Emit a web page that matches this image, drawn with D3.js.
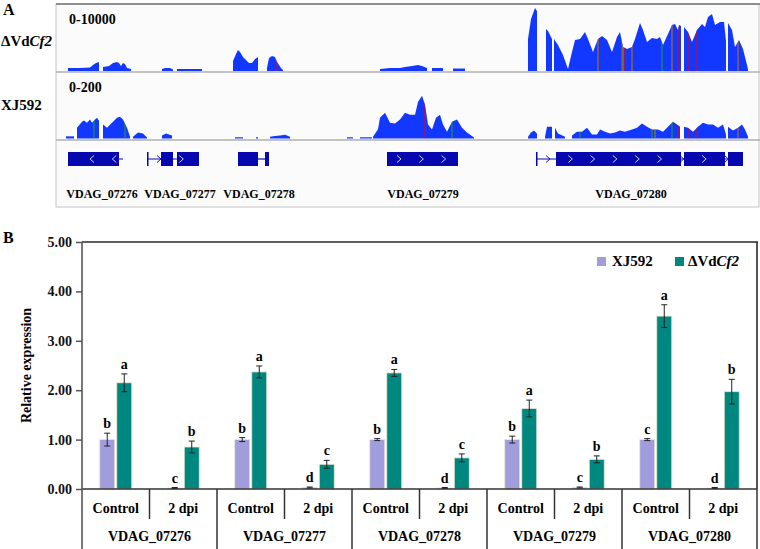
<!DOCTYPE html>
<html>
<head>
<meta charset="utf-8">
<script src="https://cdn.jsdelivr.net/npm/d3@7"></script>
<style>
  body { margin: 0; background: #fff; }
</style>
</head>
<body>
<svg width="760" height="549"></svg>
<script>
// ---- panel A data : coverage ([bin, reads]) per contiguous segment ----
const cf2Coverage = [
  [[11,460],[23,460],[33,540],[36,920],[39,1230],[42,1380]],
  [[46,620],[52,770],[56,1230],[60,1380],[62,1230],[64,770],[66,1230],[68,1080],[70,460],[74,310]],
  [[105,310],[108,460],[113,460],[116,230]],
  [[120,310],[145,310]],
  [[176,1540],[179,2620],[181,3230],[183,2930],[186,2160],[189,1690],[192,1230],[195,1230],[198,1850],[201,2160]],
  [[210,460],[212,2000],[215,2310],[218,2160],[220,1390],[222,920],[224,460],[226,150]],
  [[323,310],[333,460],[343,460],[348,620],[355,770],[361,920],[365,770],[370,460]],
  [[375,460],[386,460]],
  [[396,380],[408,380]],
  [[471,4930],[474,8010],[478,9700],[480,9240]],
  [[489,6470],[491,6160],[495,4930]],
  [[497,4930],[501,4000],[506,2460],[511,310],[515,2930],[518,4770],[523,4930],[528,6010],[531,4930],[536,2930],
   [541,4930],[545,5390],[550,4770],[555,2930],[560,5240],[563,6010],[566,3700],[570,3390],[575,3700],[578,4930],
   [583,7390],[586,6310],[590,4470],[595,5080],[600,4930],[603,5240],[606,4000],[611,5700],[615,7080],[618,7240],
   [621,6310],[622,7080],[624,6930]],
  [[627,6780],[631,6010],[635,4470],[640,6310],[645,7240],[648,6780],[651,8320],[655,8780],[658,7080],[663,7550],
   [667,7550],[669,4620]],
  [[671,7390],[675,6310],[678,3700],[682,4770],[686,3390],[690,920],[691,150]]
];
const xj592Coverage = [
  [[9,7],[17,7]],
  [[20,35],[25,54],[27,58],[30,51],[33,61],[35,51],[38,61],[40,67],[41,61],[42,58]],
  [[46,45],[50,35],[55,51],[60,67],[63,70],[66,61],[70,35],[73,6]],
  [[76,6],[81,19],[86,16],[90,3]],
  [[105,10],[109,16],[115,10]],
  [[178,4],[186,4]],
  [[199,4],[201,4]],
  [[213,6],[218,8],[223,10],[228,12],[233,6]],
  [[290,4],[296,4]],
  [[303,4],[315,4]],
  [[316,6],[321,30],[323,67],[328,83],[333,51],[338,48],[343,61],[348,83],[353,77],[358,77],[361,118],[365,138],
   [368,109],[371,45],[375,29],[379,67],[383,77],[386,45],[390,22],[395,54],[400,61],[405,35],[410,19],[416,6],[417,3]],
  [[471,6],[474,19],[477,26],[480,16]],
  [[488,6],[490,38],[495,38]],
  [[498,35],[501,16],[508,6]],
  [[515,10],[520,22],[525,22],[530,35],[535,13],[540,13],[543,29],[548,22],[553,16],[558,19],[563,26],[568,22],
   [575,29],[580,35],[585,48],[590,38],[595,29],[601,29],[606,22],[611,38],[616,54],[620,45],[623,38]],
  [[627,38],[631,35],[636,22],[641,38],[646,51],[651,45],[656,45],[661,35],[666,45],[669,13]],
  [[671,38],[676,26],[681,35],[685,45],[688,29],[691,6]]
];
// mismatch positions [bin, base]
const cf2Mismatch = [[220,"T"],[541,"G"],[565,"A"],[566,"G"],[568,"T"],[575,"G"],[605,"A"],[615,"G"],[622,"T"],
  [632,"T"],[640,"T"],[681,"G"],[691,"T"]];
const xj592Mismatch = [[37,"A"],[68,"A"],[368,"T"],[395,"A"],[523,"A"],[595,"A"],[598,"G"],[615,"A"],[622,"T"],
  [632,"T"],[640,"T"],[681,"G"]];
const baseColor = { A: "#1fa51f", C: "#0000ff", G: "#d17105", T: "#e0001c" };

const geneModels = [
  { name: "VDAG_07276", strand: -1, span: [11, 66], exons: [[11, 62]], labelAt: 45 },
  { name: "VDAG_07277", strand: 1, span: [90, 142], exons: [[90, 91.5], [104, 116], [120, 142]], labelAt: 123 },
  { name: "VDAG_07278", strand: 0, span: [181, 212], exons: [[181, 201], [208, 212]], labelAt: 202 },
  { name: "VDAG_07279", strand: 1, span: [330, 401], exons: [[330, 401]], labelAt: 366 },
  { name: "VDAG_07280", strand: 1, span: [479, 686], exons: [[479, 480.5], [499, 624], [627, 668], [671, 686]], labelAt: 574 }
];

// ---- panel B data ----
const genes = ["VDAG_07276", "VDAG_07277", "VDAG_07278", "VDAG_07279", "VDAG_07280"];
const conditions = ["Control", "2 dpi"];
const strains = ["XJ592", "ΔVdCf2"];
const xj592Mean = [1.00, 0.02, 1.00, 0.03, 1.00, 0.02, 1.00, 0.03, 1.00, 0.02];
const xj592Err  = [0.13, 0.01, 0.04, 0.01, 0.02, 0.01, 0.07, 0.01, 0.02, 0.01];
const xj592Sig  = ["b", "c", "b", "d", "b", "d", "b", "c", "c", "d"];
const cf2Mean = [2.15, 0.85, 2.37, 0.50, 2.35, 0.63, 1.63, 0.60, 3.50, 1.97];
const cf2Err  = [0.18, 0.12, 0.12, 0.08, 0.07, 0.08, 0.17, 0.07, 0.23, 0.25];
const cf2Sig  = ["a", "b", "a", "c", "a", "c", "a", "b", "a", "b"];
const yTicks = [0, 1, 2, 3, 4, 5];

const svg = d3.select("svg")
  .attr("font-family", "Liberation Serif")
  .attr("font-weight", "bold");
const covBlue = "#1238ff", geneBlue = "#0707b0";

// ================= panel A =================
svg.append("text").attr("x", 3).attr("y", 15).attr("font-size", 16).text("A");

const gx = d3.scaleLinear().domain([0, 703]).range([57, 760]);

const frame = svg.append("g");
frame.append("rect").attr("x", 56).attr("y", 4).attr("width", 703).attr("height", 203)
  .attr("fill", "#fbfbfb").attr("stroke", "#c4c4c4");
frame.append("line").attr("x1", 56).attr("x2", 760).attr("y1", 4).attr("y2", 4)
  .attr("stroke", "#8e8e8e").attr("stroke-width", 2);
[72, 140].forEach(yy => frame.append("line").attr("x1", 56).attr("x2", 760).attr("y1", yy).attr("y2", yy)
  .attr("stroke", "#b0b0b0").attr("stroke-width", 1.6));

function drawTrack(segs, mism, yScale, id) {
  const area = d3.area().x(d => gx(d[0])).y0(yScale(0)).y1(d => yScale(d[1]));
  const g = svg.append("g");
  const clip = svg.append("clipPath").attr("id", id);
  segs.forEach(s => {
    g.append("path").attr("d", area(s)).attr("fill", covBlue);
    clip.append("path").attr("d", area(s));
  });
  g.append("g").attr("clip-path", "url(#" + id + ")").selectAll("line").data(mism).enter()
    .append("line")
    .attr("x1", d => gx(d[0])).attr("x2", d => gx(d[0]))
    .attr("y1", yScale(0)).attr("y2", yScale.range()[1])
    .attr("stroke", d => baseColor[d[1]]).attr("stroke-width", 1);
}
drawTrack(cf2Coverage, cf2Mismatch, d3.scaleLinear().domain([0, 10000]).range([71, 6]), "clipCf2");
drawTrack(xj592Coverage, xj592Mismatch, d3.scaleLinear().domain([0, 200]).range([138.5, 76.5]), "clipXj");

svg.append("text").attr("x", 69).attr("y", 24).attr("font-size", 14).text("0-10000");
svg.append("text").attr("x", 69).attr("y", 92).attr("font-size", 14).text("0-200");
const lab1 = svg.append("text").attr("x", 1).attr("y", 46).attr("font-size", 15);
lab1.append("tspan").text("ΔVd");
lab1.append("tspan").attr("font-style", "italic").text("Cf2");
svg.append("text").attr("x", 1).attr("y", 110).attr("font-size", 15).text("XJ592");

// gene models
const gm = svg.append("g");
const exonTop = 152, exonH = 14, midY = 159;
geneModels.forEach(gene => {
  gm.append("line").attr("x1", gx(gene.span[0])).attr("x2", gx(gene.span[1]))
    .attr("y1", midY).attr("y2", midY).attr("stroke", geneBlue).attr("stroke-width", 1.2);
  gene.exons.forEach(e => gm.append("rect")
    .attr("x", gx(e[0])).attr("y", exonTop)
    .attr("width", Math.max(gx(e[1]) - gx(e[0]), 1.5)).attr("height", exonH)
    .attr("fill", geneBlue));
  if (gene.strand !== 0) {
    for (let p = gene.span[0] + (gene.strand > 0 ? 12 : 24); p < gene.span[1] - 2; p += 22.3) {
      const onExon = gene.exons.some(e => p > e[0] + 1 && p < e[1] - 1);
      const d = gene.strand > 0 ? -2 : 2;
      gm.append("path")
        .attr("d", `M${gx(p) + d},${midY - 3.5}L${gx(p) - d},${midY}L${gx(p) + d},${midY + 3.5}`)
        .attr("fill", "none").attr("stroke", onExon ? "#e8e8ff" : geneBlue).attr("stroke-width", 0.9);
    }
  }
  gm.append("text").attr("x", gx(gene.labelAt)).attr("y", 198).attr("text-anchor", "middle")
    .attr("font-size", 12).text(gene.name);
});

// ================= panel B =================
svg.append("text").attr("x", 3).attr("y", 243).attr("font-size", 16).text("B");

const pLeft = 82, pRight = 757, pTop = 242, pBottom = 489;
const y = d3.scaleLinear().domain([0, 5]).range([pBottom, pTop]);
const xGene = d3.scaleBand().domain(genes).range([pLeft, pRight]);
const xCond = d3.scaleBand().domain(conditions).range([0, xGene.bandwidth()]);
const xStrain = d3.scaleBand().domain(strains)
  .range([xCond.bandwidth() / 2 - 16, xCond.bandwidth() / 2 + 16]).paddingInner(0.12);

const rows = [];
genes.forEach((g, gi) => conditions.forEach((c, ci) => {
  const k = gi * 2 + ci;
  rows.push({ gene: g, cond: c, strain: strains[0], v: xj592Mean[k], e: xj592Err[k], s: xj592Sig[k] });
  rows.push({ gene: g, cond: c, strain: strains[1], v: cf2Mean[k], e: cf2Err[k], s: cf2Sig[k] });
}));
const color = d3.scaleOrdinal().domain(strains).range(["#a19ddd", "#00877f"]);
const bx = d => xGene(d.gene) + xCond(d.cond) + xStrain(d.strain);

// frame lines
svg.append("line").attr("x1", pLeft).attr("x2", pRight + 1).attr("y1", pTop).attr("y2", pTop)
  .attr("stroke", "#2a2a2a").attr("stroke-width", 1.6);
svg.append("line").attr("x1", pRight).attr("x2", pRight).attr("y1", pTop).attr("y2", pBottom)
  .attr("stroke", "#2a2a2a").attr("stroke-width", 1.6);

const yAxis = svg.append("g").attr("transform", `translate(${pLeft},0)`)
  .call(d3.axisLeft(y).tickValues(yTicks).tickFormat(d3.format(".2f")).tickSize(6).tickPadding(4));
yAxis.attr("font-family", "Liberation Serif").attr("font-size", 14);
yAxis.select(".domain").remove();
yAxis.selectAll(".tick line").attr("stroke", "#555").attr("stroke-width", 1.5);
yAxis.selectAll(".tick text").attr("fill", "#111");

svg.append("text").attr("transform", `translate(31,${(pTop + pBottom) / 2}) rotate(-90)`)
  .attr("text-anchor", "middle").attr("font-size", 14).text("Relative expression");

// bars
svg.append("g").selectAll("rect").data(rows).enter().append("rect")
  .attr("x", bx).attr("width", xStrain.bandwidth())
  .attr("y", d => y(d.v)).attr("height", d => y(0) - y(d.v))
  .attr("fill", d => color(d.strain)).attr("stroke", "#ece6cc").attr("stroke-width", 0.8);

// error bars
const eb = svg.append("g").attr("stroke", "#222").attr("stroke-width", 1);
rows.forEach(d => {
  const cx = bx(d) + xStrain.bandwidth() / 2;
  eb.append("line").attr("x1", cx).attr("x2", cx).attr("y1", y(d.v - d.e)).attr("y2", y(d.v + d.e));
  [d.v - d.e, d.v + d.e].forEach(v => eb.append("line")
    .attr("x1", cx - 3).attr("x2", cx + 3).attr("y1", y(v)).attr("y2", y(v)));
});

// significance letters
svg.append("g").selectAll("text").data(rows).enter().append("text")
  .attr("x", d => bx(d) + xStrain.bandwidth() / 2)
  .attr("y", d => y(d.v + d.e) - 5)
  .attr("text-anchor", "middle").attr("font-size", 14).text(d => d.s);

// x axis baseline and category separators
svg.append("line").attr("x1", pLeft).attr("x2", pRight).attr("y1", pBottom).attr("y2", pBottom)
  .attr("stroke", "#333").attr("stroke-width", 1.6);
svg.append("line").attr("x1", pLeft).attr("x2", pLeft).attr("y1", pTop).attr("y2", 549)
  .attr("stroke", "#555").attr("stroke-width", 1.6);
const cat = svg.append("g").attr("stroke", "#333").attr("stroke-width", 1.5);
genes.forEach(g => {
  const x0 = xGene(g);
  cat.append("line").attr("x1", x0 + xGene.bandwidth()).attr("x2", x0 + xGene.bandwidth())
    .attr("y1", pBottom).attr("y2", 549);
  const xm = x0 + xCond("2 dpi");
  cat.append("line").attr("x1", xm).attr("x2", xm).attr("y1", pBottom).attr("y2", 519);
  conditions.forEach(c => svg.append("text")
    .attr("x", x0 + xCond(c) + xCond.bandwidth() / 2).attr("y", 513)
    .attr("text-anchor", "middle").attr("font-size", 14).text(c));
  svg.append("text").attr("x", x0 + xGene.bandwidth() / 2).attr("y", 541)
    .attr("text-anchor", "middle").attr("font-size", 14).text(g);
});

// legend
const leg = svg.append("g");
[[597, 612], [675, 688]].forEach((p, i) => {
  leg.append("rect").attr("x", p[0]).attr("y", 257).attr("width", 9).attr("height", 9)
    .attr("fill", color(strains[i]));
});
leg.append("text").attr("x", 612).attr("y", 266).attr("font-size", 15).text("XJ592");
const lt = leg.append("text").attr("x", 688).attr("y", 266).attr("font-size", 15);
lt.append("tspan").text("ΔVd");
lt.append("tspan").attr("font-style", "italic").text("Cf2");
</script>
</body>
</html>
